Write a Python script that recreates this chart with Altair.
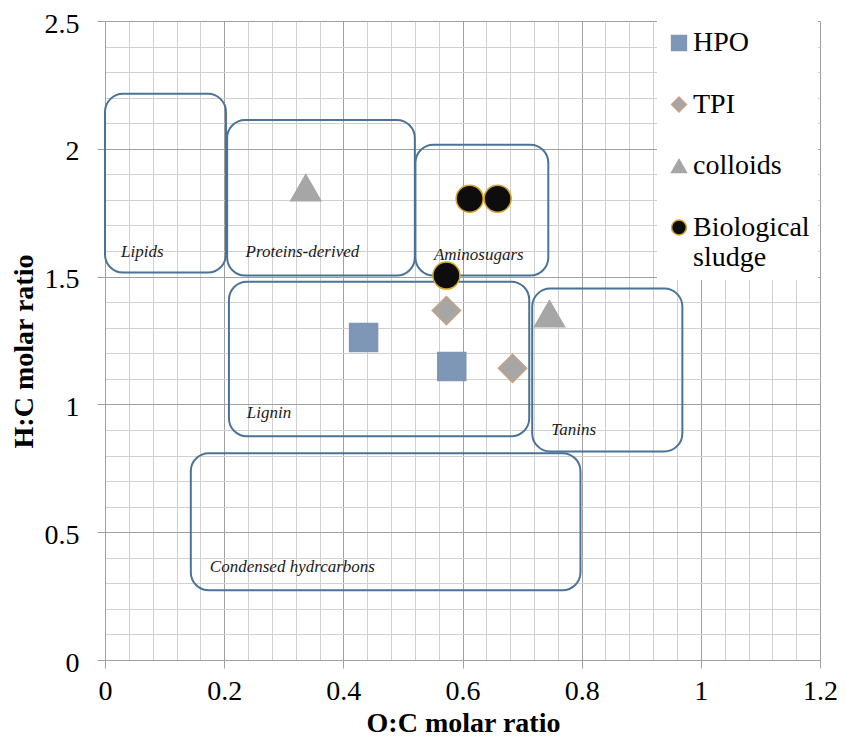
import altair as alt
import pandas as pd

# ---------------- data ----------------
series_names = ["HPO", "TPI", "colloids", "Biological sludge"]
series_fill = ["#7F97B6", "#A6A6A6", "#A6A6A6", "#0D0D0D"]
series_stroke = ["#7F97B6", "#C9A080", "#A6A6A6", "#D4A62A"]
series_shape = ["square", "diamond", "triangle-up", "circle"]
series_size = [784, 800, 900, 729]

pt_series = ["HPO", "HPO", "TPI", "TPI", "colloids", "colloids",
             "Biological sludge", "Biological sludge", "Biological sludge"]
pt_x = [0.434, 0.582, 0.573, 0.684, 0.337, 0.746, 0.612, 0.659, 0.573]
pt_y = [1.262, 1.148, 1.367, 1.141, 1.848, 1.355, 1.805, 1.805, 1.504]

region_names = ["Lipids", "Proteins-derived", "Aminosugars", "Lignin", "Tanins",
                "Condensed hydrcarbons"]
region_x1 = [0.0, 0.205, 0.521, 0.208, 0.717, 0.144]
region_x2 = [0.203, 0.520, 0.744, 0.712, 0.969, 0.798]
region_y1 = [1.516, 1.504, 1.504, 0.875, 0.816, 0.273]
region_y2 = [2.215, 2.113, 2.016, 1.480, 1.453, 0.809]
label_x = [0.027, 0.236, 0.552, 0.238, 0.749, 0.176]
label_y = [1.598, 1.598, 1.586, 0.965, 0.898, 0.363]

x_ticks = [round(i * 0.04, 2) for i in range(31)]
y_ticks = [round(i * 0.1, 1) for i in range(26)]

points = pd.DataFrame({"series": pt_series, "x": pt_x, "y": pt_y})
regions = pd.DataFrame({"name": region_names, "x1": region_x1, "x2": region_x2,
                        "y1": region_y1, "y2": region_y2,
                        "lx": label_x, "ly": label_y})

# ---------------- styles ----------------
SERIF = "Liberation Serif"
MAJOR = "#A0A0A0"
MINOR = "#D0D0D0"
BOX = "#4B7397"

x_major = "abs(datum.value*5 - round(datum.value*5)) < 0.001"
y_major = "abs(datum.value*2 - round(datum.value*2)) < 0.001"

x_axis = alt.Axis(
    values=x_ticks, grid=True, title="O:C molar ratio",
    gridColor={"condition": {"test": x_major, "value": MAJOR}, "value": MINOR},
    tickOpacity={"condition": {"test": x_major, "value": 1}, "value": 0},
    labelExpr=f"{x_major} ? format(datum.value, '.1~f') : ''",
    tickSize=8, tickColor=MAJOR, labelPadding=9, labelFontSize=28,
    labelFont=SERIF, labelColor="#000", labelBaseline="top",
    domainColor=MAJOR, titleFont=SERIF, titleFontSize=28, titleFontWeight="bold",
    titleColor="#000", titleY=49, titleX=358, labelFlush=False, labelOverlap=False,
)
y_axis = alt.Axis(
    values=y_ticks, grid=True, title="H:C molar ratio",
    gridColor={"condition": {"test": y_major, "value": MAJOR}, "value": MINOR},
    tickOpacity={"condition": {"test": y_major, "value": 1}, "value": 0},
    labelExpr=f"{y_major} ? format(datum.value, '.1~f') : ''",
    tickSize=8, tickColor=MAJOR, labelPadding=18, labelFontSize=28,
    labelFont=SERIF, labelColor="#000", labelOffset=3,
    domainColor=MAJOR, titleFont=SERIF, titleFontSize=28, titleFontWeight="bold",
    titleColor="#000", titleX=-67, titleY=330, labelFlush=False, labelOverlap=False,
)

xs = alt.Scale(domain=[0, 1.2], nice=False, zero=False)
ys = alt.Scale(domain=[0, 2.5], nice=False, zero=False)

boxes = alt.Chart(regions).mark_rect(
    cornerRadius=18, fill="white", fillOpacity=0, stroke=BOX, strokeWidth=2
).encode(
    x=alt.X("x1:Q", scale=xs, axis=x_axis),
    x2="x2:Q",
    y=alt.Y("y1:Q", scale=ys, axis=y_axis),
    y2="y2:Q",
)

labels = alt.Chart(regions).mark_text(
    align="left", baseline="middle", font=SERIF, fontStyle="italic",
    fontSize=17, color="#1A1A1A"
).encode(
    x=alt.X("lx:Q", scale=xs, axis=x_axis),
    y=alt.Y("ly:Q", scale=ys, axis=y_axis),
    text="name:N",
)

fill_scale = alt.Scale(domain=series_names, range=series_fill)
stroke_scale = alt.Scale(domain=series_names, range=series_stroke)
shape_scale = alt.Scale(domain=series_names, range=series_shape)

legend = alt.Legend(
    title=None, orient="none", legendX=552, legendY=0, fillColor="white",
    padding=8, symbolSize=220, symbolStrokeWidth=1.5, labelFont=SERIF,
    labelFontSize=28, labelColor="#000", labelLimit=400, labelOffset=0,
    rowPadding=33.5, labelBaseline="middle",
    labelExpr="datum.label == 'Biological sludge' ? ['Biological', 'sludge'] : datum.label",
)

# legend carrier (draws nothing, explicit scale domains feed the legend)
leg = alt.Chart(points).transform_filter("false").mark_point(
    filled=True, opacity=1, strokeWidth=1.5, size=220
).encode(
    x=alt.X("x:Q", scale=xs, axis=x_axis),
    y=alt.Y("y:Q", scale=ys, axis=y_axis),
    color=alt.Color("series:N", scale=fill_scale, legend=legend),
    stroke=alt.Stroke("series:N", scale=stroke_scale, legend=legend),
    shape=alt.Shape("series:N", scale=shape_scale, legend=legend),
)

# visible points, one layer per series
point_layers = []
for name, fc, sc, sh, sz in zip(series_names, series_fill, series_stroke,
                                series_shape, series_size):
    point_layers.append(
        alt.Chart(points).transform_filter(alt.datum.series == name).mark_point(
            filled=True, fill=fc, stroke=sc, shape=sh, size=sz, opacity=1,
            strokeWidth=1.5
        ).encode(
            x=alt.X("x:Q", scale=xs, axis=x_axis),
            y=alt.Y("y:Q", scale=ys, axis=y_axis),
        )
    )

chart = alt.layer(boxes, labels, leg, *point_layers).properties(
    width=715, height=639,
    autosize=alt.AutoSizeParams(type="none"),
    padding={"left": 97, "top": 13, "right": 18, "bottom": 77},
).configure_view(stroke=None).configure(background="white")

chart.save("out.html", embed_options={"renderer": "svg", "actions": False})
